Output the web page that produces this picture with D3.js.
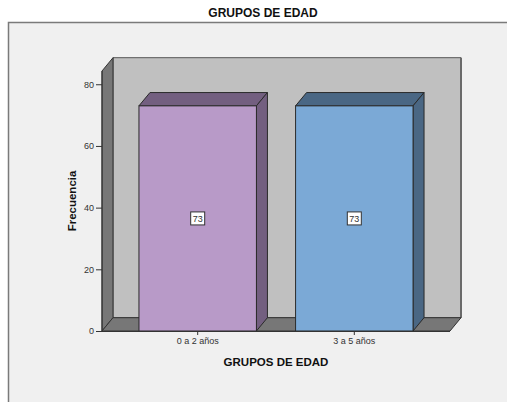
<!DOCTYPE html>
<html>
<head>
<meta charset="utf-8">
<script src="https://cdn.jsdelivr.net/npm/d3@7/dist/d3.min.js"></script>
<style>
  html, body { margin: 0; padding: 0; background: #ffffff; }
  svg { display: block; font-family: Arial, "Liberation Sans", sans-serif; }
</style>
</head>
<body>
<svg id="chart" width="507" height="402"></svg>
<script>
// Frequency counts by age group
const categories = ["0 a 2 años", "3 a 5 años"];
const counts = [73, 73];
const yTicks = [0, 20, 40, 60, 80];
const frontColors = ["#b89ac8", "#7ba9d6"];
const sideColors = ["#735f80", "#4a6784"];

const svg = d3.select("#chart");

// Panel background
svg.append("rect")
  .attr("x", 8.5).attr("y", 22.5)
  .attr("width", 600).attr("height", 600)
  .attr("fill", "#f0f0f0")
  .attr("stroke", "#7a7a7a")
  .attr("stroke-width", 1.5);

// Title
svg.append("text")
  .attr("x", 263).attr("y", 17)
  .attr("text-anchor", "middle")
  .attr("font-size", 12).attr("font-weight", "bold")
  .attr("fill", "#111")
  .text("GRUPOS DE EDAD");

// 3D geometry
const plotLeft = 102, plotRight = 450, plotBottom = 331;
const depthX = 11, depthY = 13.3;

const x = d3.scaleBand()
  .domain(categories)
  .range([plotLeft, plotRight])
  .paddingInner(0.25)
  .paddingOuter(0.236);

const y = d3.scaleLinear()
  .domain([0, 84.3])
  .range([plotBottom, 71]);

const plotTop = y(y.domain()[1]);
const line = d3.line();

// Back wall
svg.append("path")
  .attr("d", line([[plotLeft + depthX, plotTop - depthY], [plotRight + depthX, plotTop - depthY],
                   [plotRight + depthX, plotBottom - depthY], [plotLeft + depthX, plotBottom - depthY]]) + "Z")
  .attr("fill", "#c0c0c0")
  .attr("stroke", "#555")
  .attr("stroke-width", 1);
// darker right edge of back wall
svg.append("line")
  .attr("x1", plotRight + depthX).attr("x2", plotRight + depthX)
  .attr("y1", plotTop - depthY).attr("y2", plotBottom - depthY)
  .attr("stroke", "#6a6a6a").attr("stroke-width", 2);

// Left side wall
svg.append("path")
  .attr("d", line([[plotLeft, plotTop], [plotLeft + depthX, plotTop - depthY],
                   [plotLeft + depthX, plotBottom - depthY], [plotLeft, plotBottom]]) + "Z")
  .attr("fill", "#777777")
  .attr("stroke", "#333")
  .attr("stroke-width", 1);

// Floor
svg.append("path")
  .attr("d", line([[plotLeft, plotBottom], [plotRight, plotBottom],
                   [plotRight + depthX, plotBottom - depthY], [plotLeft + depthX, plotBottom - depthY]]) + "Z")
  .attr("fill", "#777777")
  .attr("stroke", "#333")
  .attr("stroke-width", 1);

// Bars
const bars = svg.append("g");
categories.forEach((c, i) => {
  const x0 = x(c), x1 = x(c) + x.bandwidth();
  const yv = y(counts[i]), y0 = y(0);
  const g = bars.append("g");
  // top face
  g.append("path")
    .attr("d", line([[x0, yv], [x0 + depthX, yv - depthY], [x1 + depthX, yv - depthY], [x1, yv]]) + "Z")
    .attr("fill", sideColors[i]).attr("stroke", "#2a2a2a").attr("stroke-width", 1);
  // side face
  g.append("path")
    .attr("d", line([[x1, yv], [x1 + depthX, yv - depthY], [x1 + depthX, y0 - depthY], [x1, y0]]) + "Z")
    .attr("fill", sideColors[i]).attr("stroke", "#2a2a2a").attr("stroke-width", 1);
  // front face
  g.append("rect")
    .attr("x", x0).attr("y", yv)
    .attr("width", x.bandwidth()).attr("height", y0 - yv)
    .attr("fill", frontColors[i]).attr("stroke", "#2a2a2a").attr("stroke-width", 1);

  // value label
  const cx = x0 + x.bandwidth() / 2, cy = (yv + y0) / 2;
  g.append("rect")
    .attr("x", cx - 7).attr("y", cy - 6.5)
    .attr("width", 14).attr("height", 13)
    .attr("fill", "#ffffff").attr("stroke", "#333").attr("stroke-width", 1);
  g.append("text")
    .attr("x", cx).attr("y", cy + 3.3)
    .attr("text-anchor", "middle")
    .attr("font-size", 9).attr("fill", "#333")
    .text(counts[i]);
});

// Front floor edge
svg.append("line")
  .attr("x1", plotLeft).attr("x2", plotRight)
  .attr("y1", plotBottom + 0.5).attr("y2", plotBottom + 0.5)
  .attr("stroke", "#333").attr("stroke-width", 1);

// Y axis
const yAxis = d3.axisLeft(y).tickValues(yTicks).tickSize(6).tickPadding(2);
const gy = svg.append("g")
  .attr("transform", `translate(${plotLeft},0)`)
  .call(yAxis);
gy.select(".domain").attr("stroke", "#333").attr("d", `M0,${plotTop}V${plotBottom}`);
gy.selectAll(".tick line").attr("stroke", "#333");
gy.selectAll(".tick text").attr("font-size", 9).attr("fill", "#333")
  .attr("font-family", "Arial, 'Liberation Sans', sans-serif");

// X axis
const xAxis = d3.axisBottom(x).tickSize(4).tickPadding(3);
const gx = svg.append("g")
  .attr("transform", `translate(0,${plotBottom})`)
  .call(xAxis);
gx.select(".domain").remove();
gx.selectAll(".tick line").attr("stroke", "#333");
gx.selectAll(".tick text").attr("font-size", 9).attr("fill", "#333")
  .attr("font-family", "Arial, 'Liberation Sans', sans-serif");

// Axis titles
svg.append("text")
  .attr("x", 276).attr("y", 366)
  .attr("text-anchor", "middle")
  .attr("font-size", 11.5).attr("font-weight", "bold").attr("fill", "#111")
  .text("GRUPOS DE EDAD");

svg.append("text")
  .attr("transform", `translate(76,201) rotate(-90)`)
  .attr("text-anchor", "middle")
  .attr("font-size", 11.5).attr("font-weight", "bold").attr("fill", "#111")
  .text("Frecuencia");
</script>
</body>
</html>
